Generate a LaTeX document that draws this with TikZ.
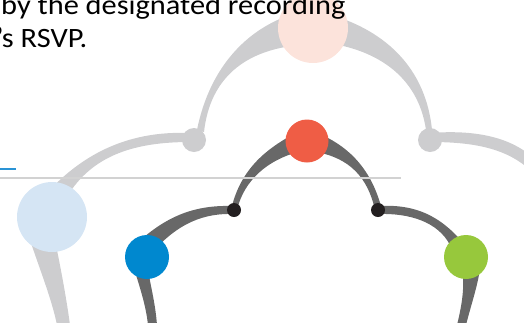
\documentclass[tikz,border=0pt]{standalone}
\usepackage{fontspec}
\setmainfont{Carlito}
\definecolor{branchlight}{HTML}{CDCDCF}
\definecolor{branchdark}{HTML}{686868}
\definecolor{dotblack}{HTML}{231F20}
\definecolor{peach}{HTML}{FCE3DB}
\definecolor{paleblue}{HTML}{D5E5F4}
\definecolor{redleaf}{HTML}{EF5D45}
\definecolor{blueleaf}{HTML}{0088CF}
\definecolor{greenleaf}{HTML}{97C83C}
\definecolor{rulegray}{HTML}{D2D2D2}
\definecolor{ruleblue}{HTML}{2A93D5}
\newcommand{\widetext}[1]{\scalebox{1.085}[1]{#1}}
\begin{document}
\begin{tikzpicture}[x=1pt,y=-1pt,
  bubble/.style={circle,inner sep=0pt,draw=none},
  lightband/.style={fill=branchlight,draw=none},
  darkband/.style={fill=branchdark,draw=none},
  bodytext/.style={anchor=base west,inner sep=0pt,font=\fontsize{28}{30}\selectfont}]
\useasboundingbox (0,0) rectangle (524,322);
\clip (0,0) rectangle (524,322);

% outer (light) tree
\path[lightband] (300,12) .. controls (250,25) and (210,65) .. (197,130)
  -- (204,132) .. controls (210,78) and (245,50) .. (300,45) -- cycle;
\path[lightband] (320,12) .. controls (375,25) and (425,60) .. (432,130)
  -- (426,130) .. controls (418,75) and (375,48) .. (320,42) -- cycle;
\path[lightband] (190,133) .. controls (140,131) and (90,145) .. (45,195)
  -- (70,192) .. controls (95,155) and (135,142) .. (190,142) -- cycle;
\path[lightband] (30,240) .. controls (40,270) and (52,300) .. (57,325)
  -- (70,325) .. controls (66,295) and (60,265) .. (55,240) -- cycle;
\path[lightband] (430,133) .. controls (470,130) and (505,135) .. (530,155)
  -- (530,170) .. controls (505,147) and (470,142) .. (430,142) -- cycle;

\node[bubble,fill=peach,minimum size=70pt] (peachnode) at (313,28) {};
\node[bubble,fill=branchlight,minimum size=24pt] (forkleft) at (194,140) {};
\node[bubble,fill=branchlight,minimum size=24pt] (forkright) at (430,140) {};
\node[bubble,fill=paleblue,minimum size=70pt] (palenode) at (52,217) {};

% inner (dark) tree
\path[darkband] (292,135) .. controls (265,150) and (240,170) .. (231,210)
  -- (237,210) .. controls (244,180) and (268,160) .. (298,152) -- cycle;
\path[darkband] (322,135) .. controls (350,148) and (372,170) .. (382,210)
  -- (375,210) .. controls (368,178) and (350,158) .. (316,152) -- cycle;
\path[darkband] (234,206) .. controls (200,205) and (170,212) .. (135,245)
  -- (150,255) .. controls (178,222) and (205,213) .. (234,214) -- cycle;
\path[darkband] (133,265) .. controls (139,285) and (146,305) .. (148,325)
  -- (157,325) .. controls (155,300) and (150,285) .. (148,268) -- cycle;
\path[darkband] (378,206) .. controls (415,204) and (440,215) .. (465,245)
  -- (450,245) .. controls (438,222) and (410,213) .. (378,214) -- cycle;
\path[darkband] (462,270) .. controls (465,285) and (462,305) .. (457,325)
  -- (466,325) .. controls (471,305) and (478,285) .. (480,268) -- cycle;

% separator rules
\draw[rulegray,line width=2pt] (0,178) -- (401,178);
\draw[ruleblue,line width=2pt] (0,169) -- (16,169);

\node[bubble,fill=redleaf,minimum size=43pt] (rednode) at (307,141) {};
\node[bubble,fill=dotblack,minimum size=14pt] (dotleft) at (234,210) {};
\node[bubble,fill=dotblack,minimum size=14pt] (dotright) at (378,210) {};
\node[bubble,fill=blueleaf,minimum size=44pt] (bluenode) at (147,257) {};
\node[bubble,fill=greenleaf,minimum size=44pt] (greennode) at (466,257) {};

% text lines, set over the drawing
\node[bodytext] (lineone) at (1,14) {\widetext{by the designated recording}};
\node[bodytext] (linetwo) at (-4,47) {\widetext{’s RSVP.}};
\end{tikzpicture}
\end{document}
